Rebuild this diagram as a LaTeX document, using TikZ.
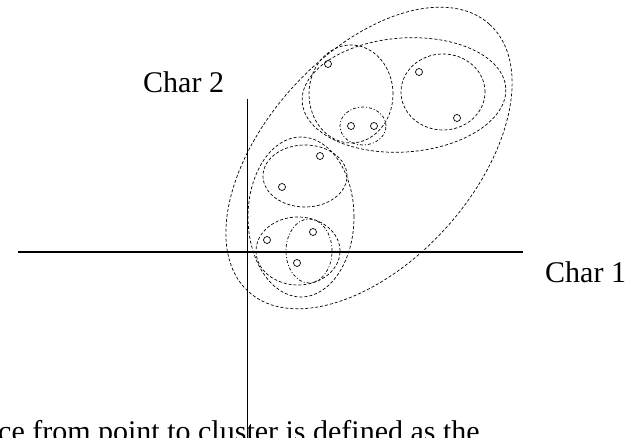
\documentclass[tikz,border=0pt]{standalone}
\usepackage{fontspec}
\setmainfont{Liberation Serif}
\begin{document}
\begin{tikzpicture}
[  
    x=1pt, y=1pt,
    obs/.style={draw, circle, inner sep=0pt, minimum size=7pt, line width=0.7pt},
    clus/.style={draw=black, line width=0.7pt, dash pattern=on 3pt off 2pt},
    sub/.style={draw=black, line width=0.7pt, dash pattern=on 3pt off 2pt on 1pt off 2pt},
    lab/.style={font=\fontsize{30}{36}\selectfont, inner sep=0pt, anchor=base west}
]
    \useasboundingbox (0,0) rectangle (632,438);

    % axes
    \coordinate (xl) at (18,186);
    \coordinate (xr) at (523,186);
    \coordinate (yt) at (247,339);
    \coordinate (yb) at (247,0);
    \draw [line width=2pt] (xl) -- (xr);
    \draw [line width=0.8pt] (yt) -- (yb);
    \node [lab] (char2) at (143,345) {Char 2};
    \node [lab] (char1) at (545,155) {Char 1};
    \node [lab] (caption) at (-2,-3.5) {ce from point to cluster is defined as the};

    % clusters
    \draw [clus, rotate around={48:(369,280)}] (369,280) ellipse [x radius=180, y radius=104];
    \draw [clus, rotate around={4:(404,343)}] (404,343) ellipse [x radius=102, y radius=57];
    \draw [clus] (351,344) ellipse [x radius=42, y radius=49];
    \draw [sub] (363,312) ellipse [x radius=23, y radius=19];
    \draw [clus] (443,346) ellipse [x radius=42, y radius=38];
    \draw [clus] (301,221) ellipse [x radius=53, y radius=80];
    \draw [clus] (305,262) ellipse [x radius=42, y radius=31];
    \draw [clus] (298,187) ellipse [x radius=42, y radius=34];
    \draw [sub] (309,187) ellipse [x radius=23, y radius=32];

    % points
    \node [obs] (p1) at (328,374) {};
    \node [obs] (p2) at (351,312) {};
    \node [obs] (p3) at (374,312) {};
    \node [obs] (p4) at (419,366) {};
    \node [obs] (p5) at (457,320) {};
    \node [obs] (p6) at (320,282) {};
    \node [obs] (p7) at (282,251) {};
    \node [obs] (p8) at (267,198) {};
    \node [obs] (p9) at (313,206) {};
    \node [obs] (p10) at (297,175) {};
\end{tikzpicture}
\end{document}
